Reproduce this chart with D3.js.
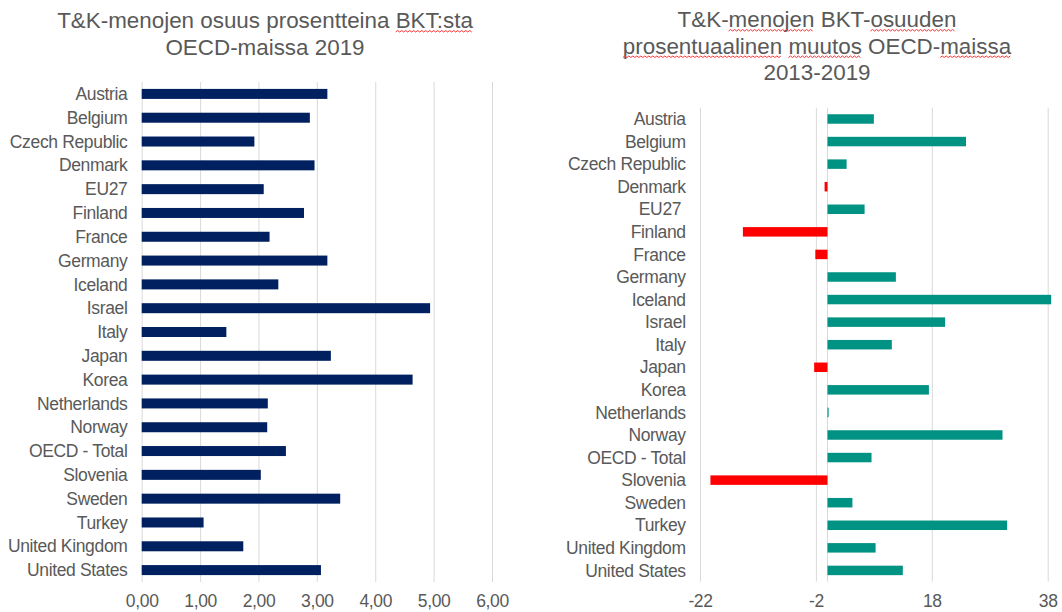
<!DOCTYPE html>
<html>
<head>
<meta charset="utf-8">
<script src="https://cdn.jsdelivr.net/npm/d3@7"></script>
<style>
  body { margin: 0; background: #fff; }
  svg text { font-family: "Liberation Sans", Arial, sans-serif; fill: #595959; }
  .lab, .axis text { letter-spacing: -0.35px; }
</style>
</head>
<body>
<svg id="chart" width="1062" height="612"></svg>
<script>
// T&K-menot OECD-maissa

var countries = ["Austria", "Belgium", "Czech Republic", "Denmark", "EU27", "Finland", "France",
  "Germany", "Iceland", "Israel", "Italy", "Japan", "Korea", "Netherlands", "Norway",
  "OECD - Total", "Slovenia", "Sweden", "Turkey", "United Kingdom", "United States"];

// right chart labels (EU27 has a trailing space in the original)
var countriesRight = countries.map(function(c) { return c == "EU27" ? "EU27 " : c; });

// R&D spending, % of GDP 2019
var rdShare = [3.18, 2.88, 1.93, 2.96, 2.09, 2.78, 2.19, 3.18, 2.34, 4.94, 1.45,
  3.24, 4.64, 2.16, 2.15, 2.47, 2.04, 3.40, 1.06, 1.74, 3.07];

// change of the share 2013-2019, %
var rdChange = [8.0, 23.9, 3.3, -0.5, 6.4, -14.6, -2.1, 11.8, 38.6, 20.3, 11.1,
  -2.3, 17.5, 0.2, 30.2, 7.6, -20.2, 4.3, 31.0, 8.3, 13.0];

var leftTicks = [0, 1, 2, 3, 4, 5, 6];
var rightTicks = [-22, -2, 18, 38];

var titleLeft = ["T&K-menojen osuus prosentteina BKT:sta", "OECD-maissa 2019"];
var titleRight = ["T&K-menojen BKT-osuuden", "prosentuaalinen muutos OECD-maissa", "2013-2019"];
// words with the spell-check squiggle, per title line
var squigLeft = [["BKT:sta"], []];
var squigRight = [["menojen", "osuuden"], ["prosentuaalinen", "muutos", "maissa"], []];

var svg = d3.select("#chart");
var fi = d3.formatLocale({decimal: ",", thousands: " ", grouping: [3], currency: ["", "€"], minus: "-"});

var navy = "#002060", teal = "#009282", red = "#ff0000", grid = "#d9d9d9";

// ---------- left chart ----------
var x1 = d3.scaleLinear().domain([0, 6]).range([141.7, 492]);
var y1 = d3.scaleBand().domain(countries).range([82, 582]).paddingInner(0.58).paddingOuter(0.29);

var g1 = svg.append("g");

g1.append("g")
    .attr("class", "axis")
    .attr("transform", "translate(0,582)")
    .call(d3.axisBottom(x1).tickValues(leftTicks).tickSize(-500).tickPadding(13)
        .tickFormat(fi.format(".2f")))
    .call(function(a) {
        a.select(".domain").remove();
        a.selectAll("line").attr("stroke", grid);
        a.selectAll("text").style("font-size", "17.5px").attr("fill", "#595959");
    });

g1.selectAll(".bar")
    .data(rdShare)
    .enter()
    .append("rect")
    .attr("class", "bar")
    .attr("x", x1(0))
    .attr("y", function(d, i) { return y1(countries[i]); })
    .attr("width", function(d) { return x1(d) - x1(0); })
    .attr("height", y1.bandwidth())
    .attr("fill", navy);

g1.selectAll(".lab")
    .data(countries)
    .enter()
    .append("text")
    .attr("class", "lab")
    .attr("x", 127.5)
    .attr("y", function(d) { return y1(d) + y1.bandwidth() / 2; })
    .attr("dy", "0.35em")
    .attr("text-anchor", "end")
    .style("font-size", "17.5px")
    .text(function(d) { return d; });

// ---------- right chart ----------
var x2 = d3.scaleLinear().domain([-22, 38]).range([700, 1047.7]);
var y2 = d3.scaleBand().domain(countriesRight).range([107.7, 581.7]).paddingInner(0.58).paddingOuter(0.29);

var g2 = svg.append("g");

g2.append("g")
    .attr("class", "axis")
    .attr("transform", "translate(0,581.7)")
    .call(d3.axisBottom(x2).tickValues(rightTicks).tickSize(-474).tickPadding(13)
        .tickFormat(fi.format("d")))
    .call(function(a) {
        a.select(".domain").remove();
        a.selectAll("line").attr("stroke", grid);
        a.selectAll("text").style("font-size", "17.5px").attr("fill", "#595959");
    });

// vertical axis line at zero
g2.append("line")
    .attr("x1", x2(0)).attr("x2", x2(0))
    .attr("y1", 107.7).attr("y2", 581.7)
    .attr("stroke", grid);

g2.selectAll(".bar")
    .data(rdChange)
    .enter()
    .append("rect")
    .attr("class", "bar")
    .attr("x", function(d) { return x2(Math.min(0, d)); })
    .attr("y", function(d, i) { return y2(countriesRight[i]); })
    .attr("width", function(d) { return Math.abs(x2(d) - x2(0)); })
    .attr("height", y2.bandwidth())
    .attr("fill", function(d) { return d < 0 ? red : teal; });

g2.selectAll(".lab")
    .data(countriesRight)
    .enter()
    .append("text")
    .attr("class", "lab")
    .attr("x", 685.7)
    .attr("y", function(d) { return y2(d) + y2.bandwidth() / 2; })
    .attr("dy", "0.35em")
    .attr("text-anchor", "end")
    .style("font-size", "17.5px")
    .style("white-space", "pre")
    .text(function(d) { return d; });

// ---------- titles ----------
function squiggle(x0, x1, y) {
    var p = "M" + x0 + "," + y, up = true;
    for (var xx = x0 + 2; xx <= x1; xx += 2) {
        p += "L" + xx + "," + (up ? y - 1.5 : y);
        up = !up;
    }
    return p;
}

function drawTitle(lines, squigs, cx, y0, lh) {
    lines.forEach(function(line, li) {
        var t = svg.append("text")
            .attr("x", cx)
            .attr("y", y0 + li * lh)
            .attr("text-anchor", "middle")
            .style("font-size", "22.4px")
            .text(line);
        var node = t.node(),
            total = node.getComputedTextLength(),
            start = cx - total / 2;
        squigs[li].forEach(function(w) {
            var idx = line.indexOf(w),
                off = idx > 0 ? node.getSubStringLength(0, idx) : 0,
                len = node.getSubStringLength(idx, w.length);
            svg.append("path")
                .attr("d", squiggle(start + off, start + off + len, y0 + li * lh + 4))
                .attr("fill", "none")
                .attr("stroke", "#ff3030")
                .attr("stroke-width", 1);
        });
    });
}

drawTitle(titleLeft, squigLeft, 265, 28, 26.5);
drawTitle(titleRight, squigRight, 817, 27, 26.5);
</script>
</body>
</html>
